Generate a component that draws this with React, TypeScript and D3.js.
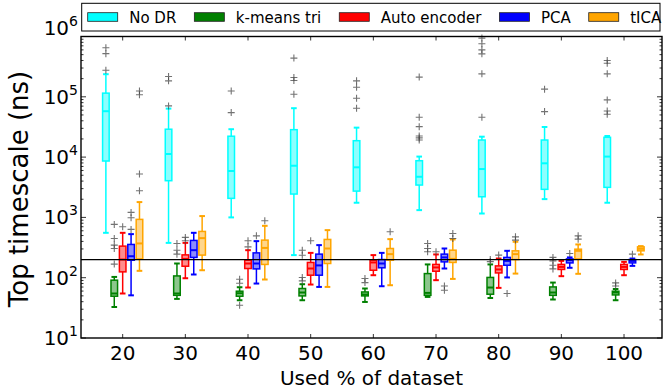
import React, { useEffect, useRef } from "react";
import * as d3 from "d3";

const categories = [20, 30, 40, 50, 60, 70, 80, 90, 100];
const seriesNames = ["No DR", "k-means tri", "Auto encoder", "PCA", "tICA"];
const seriesColors = ["#00ffff", "#008000", "#ff0000", "#0000ff", "#ffa500"];

// each entry: [whisker low, q1, median, q3, whisker high]
const noDrBoxes = [
  [555, 8610, 57700, 115000, 237000],
  [378, 4060, 11250, 29000, 63700],
  [1000, 2070, 5880, 22200, 29000],
  [237, 2440, 7190, 28500, 64700],
  [1750, 2730, 6770, 18700, 30800],
  [1320, 3440, 4720, 8710, 10200],
  [1160, 2200, 6340, 19200, 21800],
  [2010, 2920, 7890, 19200, 31600],
  [1750, 3150, 10200, 21300, 22400],
];
const kmeansBoxes = [
  [32.7, 49.3, 54.7, 91, 103],
  [44.5, 51, 54.7, 107, 172],
  [42.3, 49.3, 55.3, 59.7, 69.5],
  [42.3, 49.9, 56.8, 66.2, 78],
  [39.6, 49.9, 52.6, 58, 66.2],
  [48, 51, 56, 117, 166],
  [46.1, 53.2, 68.7, 101, 166],
  [43.5, 51, 56.8, 70.3, 83],
  [42.3, 51.8, 56.8, 59.7, 65],
];
const autoencBoxes = [
  [54.7, 125, 200, 334, 555],
  [98, 155, 205, 239, 378],
  [68.7, 142, 172, 195, 286],
  [77, 110, 142, 179, 258],
  [110, 133, 179, 195, 237],
  [91, 128, 148, 166, 243],
  [67.8, 120, 137, 157, 208],
  [106, 137, 151, 166, 190],
  [110, 137, 151, 166, 183],
];
const pcaBoxes = [
  [51, 195, 227, 356, 528],
  [113, 217, 286, 415, 555],
  [80, 140, 172, 258, 404],
  [70.3, 110, 160, 246, 347],
  [72.2, 146, 172, 200, 258],
  [142, 183, 217, 246, 305],
  [101, 161, 190, 217, 279],
  [146, 176, 195, 205, 217],
  [157, 176, 190, 200, 208],
];
const ticaBoxes = [
  [130, 205, 370, 927, 1795],
  [133, 237, 453, 585, 1052],
  [93.3, 166, 312, 420, 725],
  [70.3, 172, 305, 431, 615],
  [75, 195, 246, 305, 436],
  [95.5, 179, 205, 286, 431],
  [117, 200, 246, 279, 394],
  [116, 205, 279, 297, 356],
  [243, 279, 301, 325, 334],
];

const noDrOutliers = [
  [650000, 520000, 275000],
  [217000, 184000, 70600],
  [125000, 54700],
  [438000, 209000, 186000, 110000],
  [184000, 144000, 94800, 64700],
  [212000, 45800, 32000, 22400, 20800, 19200],
  [940000, 757000, 601000, 516000, 240000, 45800],
  [134000, 56800],
  [399000, 361000, 240000, 88900, 58300, 51400],
];
const kmeansOutliers = [
  [765, 448, 347, 305, 168],
  [370, 286, 246],
  [94.4, 81, 34.9],
  [286, 236, 101, 88.5],
  [97, 83],
  [370, 305, 270],
  [200, 185],
  [217, 190, 161, 140],
  [82, 73],
];
const autoencOutliers = [[698], [466, 409], [409, 325], [409], [], [270], [237], [], []];
const pcaOutliers = [[1210, 985, 632], [], [494], [], [], [73, 62], [54.7], [252], [246]];
const ticaOutliers = [
  [125000, 108000, 5240, 2770],
  [],
  [879],
  [],
  [577],
  [542, 448],
  [476, 420],
  [494, 436],
  [],
];

const yTickExponents = [1, 2, 3, 4, 5, 6];
const thresholdValue = 200;
const xLabel = "Used % of dataset";
const yLabel = "Top timescale (ns)";

const allBoxes = [noDrBoxes, kmeansBoxes, autoencBoxes, pcaBoxes, ticaBoxes];
const allOutliers = [noDrOutliers, kmeansOutliers, autoencOutliers, pcaOutliers, ticaOutliers];

export default function App() {
  const ref = useRef<SVGSVGElement>(null);
  useEffect(() => {
    const svg = d3.select(ref.current);
    svg.selectAll("*").remove();
    const FONT = "DejaVu Sans";
    const L = 81, R = 662, T = 36.5, B = 338;
    const x = d3.scaleLinear().domain([13.35, 106.06]).range([L, R]);
    const y = d3.scaleLog().domain([10, 1e6]).range([B, T]);
    const step = 1.34;
    const boxW = 1.05;
    const capW = 0.9;

    svg.append("rect").attr("width", 663).attr("height", 391).attr("fill", "#fff");

    const plot = svg.append("g");

    allBoxes.forEach((boxes, si) => {
      const color = seriesColors[si];
      boxes.forEach((b, ci) => {
        const cx = categories[ci] + (si - 2) * step;
        const [lo, q1, med, q3, hi] = b;
        const g = plot.append("g");
        // whiskers
        g.append("line")
          .attr("x1", x(cx)).attr("x2", x(cx))
          .attr("y1", y(q3)).attr("y2", y(hi))
          .attr("stroke", color).attr("stroke-width", 1.5);
        g.append("line")
          .attr("x1", x(cx)).attr("x2", x(cx))
          .attr("y1", y(q1)).attr("y2", y(lo))
          .attr("stroke", color).attr("stroke-width", 1.5);
        // caps
        [lo, hi].forEach((v) => {
          g.append("line")
            .attr("x1", x(cx - capW / 2)).attr("x2", x(cx + capW / 2))
            .attr("y1", y(v)).attr("y2", y(v))
            .attr("stroke", color).attr("stroke-width", 2);
        });
        // box
        g.append("rect")
          .attr("x", x(cx - boxW / 2))
          .attr("width", x(cx + boxW / 2) - x(cx - boxW / 2))
          .attr("y", y(q3))
          .attr("height", Math.max(0.5, y(q1) - y(q3)))
          .attr("fill", color).attr("fill-opacity", 0.45)
          .attr("stroke", color).attr("stroke-width", 1.5);
        // median
        g.append("line")
          .attr("x1", x(cx - boxW / 2)).attr("x2", x(cx + boxW / 2))
          .attr("y1", y(med)).attr("y2", y(med))
          .attr("stroke", color).attr("stroke-width", 2);
        // outliers
        allOutliers[si][ci].forEach((v) => {
          const px = x(cx), py = y(v);
          g.append("path")
            .attr("d", `M${px - 3.5},${py}H${px + 3.5}M${px},${py - 3.5}V${py + 3.5}`)
            .attr("stroke", "#444").attr("stroke-opacity", 0.75).attr("stroke-width", 1.1)
            .attr("fill", "none");
        });
      });
    });

    // threshold line
    svg.append("line")
      .attr("x1", L).attr("x2", R)
      .attr("y1", y(thresholdValue)).attr("y2", y(thresholdValue))
      .attr("stroke", "#000").attr("stroke-width", 1.2);

    // ticks
    const tk = svg.append("g").attr("stroke", "#000").attr("stroke-width", 0.8);
    categories.forEach((c) => {
      tk.append("line").attr("x1", x(c)).attr("x2", x(c)).attr("y1", B).attr("y2", B - 4);
      tk.append("line").attr("x1", x(c)).attr("x2", x(c)).attr("y1", T).attr("y2", T + 4);
    });
    yTickExponents.forEach((e) => {
      const v = Math.pow(10, e);
      tk.append("line").attr("x1", L).attr("x2", L + 5).attr("y1", y(v)).attr("y2", y(v));
      tk.append("line").attr("x1", R).attr("x2", R - 5).attr("y1", y(v)).attr("y2", y(v));
      if (e < 6) {
        for (let m = 2; m <= 9; m++) {
          const mv = m * v;
          tk.append("line").attr("x1", L).attr("x2", L + 2.5).attr("y1", y(mv)).attr("y2", y(mv));
          tk.append("line").attr("x1", R).attr("x2", R - 2.5).attr("y1", y(mv)).attr("y2", y(mv));
        }
      }
    });

    // frame
    svg.append("rect")
      .attr("x", L).attr("y", T).attr("width", R - L).attr("height", B - T)
      .attr("fill", "none").attr("stroke", "#000").attr("stroke-width", 1.4);

    // x tick labels
    categories.forEach((c) => {
      svg.append("text")
        .attr("x", x(c)).attr("y", 360)
        .attr("text-anchor", "middle")
        .attr("font-family", FONT).attr("font-size", 20)
        .text(String(c));
    });
    // y tick labels
    yTickExponents.forEach((e) => {
      const yy = y(Math.pow(10, e)) + (e === 6 ? -1.5 : 7);
      const t = svg.append("text")
        .attr("x", L - 3).attr("y", yy)
        .attr("text-anchor", "end")
        .attr("font-family", FONT).attr("font-size", 20);
      t.append("tspan").text("10");
      t.append("tspan").attr("dy", -9).attr("font-size", 14).text(String(e));
    });

    // axis labels
    svg.append("text")
      .attr("x", (L + R) / 2).attr("y", 384.5)
      .attr("text-anchor", "middle")
      .attr("font-family", FONT).attr("font-size", 20)
      .text(xLabel);
    svg.append("text")
      .attr("transform", `translate(28,189) rotate(-90)`)
      .attr("text-anchor", "middle")
      .attr("font-family", FONT).attr("font-size", 26)
      .text(yLabel);

    // legend
    const lg = svg.append("g");
    lg.append("rect")
      .attr("x", 81.7).attr("y", 3.3).attr("width", 660 - 81.7).attr("height", 27.7)
      .attr("fill", "#fff").attr("stroke", "#000").attr("stroke-width", 1);
    let lx = 87.7;
    seriesNames.forEach((name, i) => {
      lg.append("rect")
        .attr("x", lx).attr("y", 12.7).attr("width", 30).attr("height", 8.6)
        .attr("fill", seriesColors[i]).attr("stroke", "#222").attr("stroke-width", 0.8);
      const t = lg.append("text")
        .attr("x", lx + 41.5).attr("y", 22.5)
        .attr("font-family", FONT).attr("font-size", 15)
        .text(name);
      const w = (t.node() as SVGTextElement).getComputedTextLength();
      lx = lx + 41.5 + w + 18;
    });
  }, []);
  return (
    <svg
      ref={ref}
      width={663}
      height={391}
      style={{ position: "absolute", left: 0, top: 0, display: "block" }}
    />
  );
}
